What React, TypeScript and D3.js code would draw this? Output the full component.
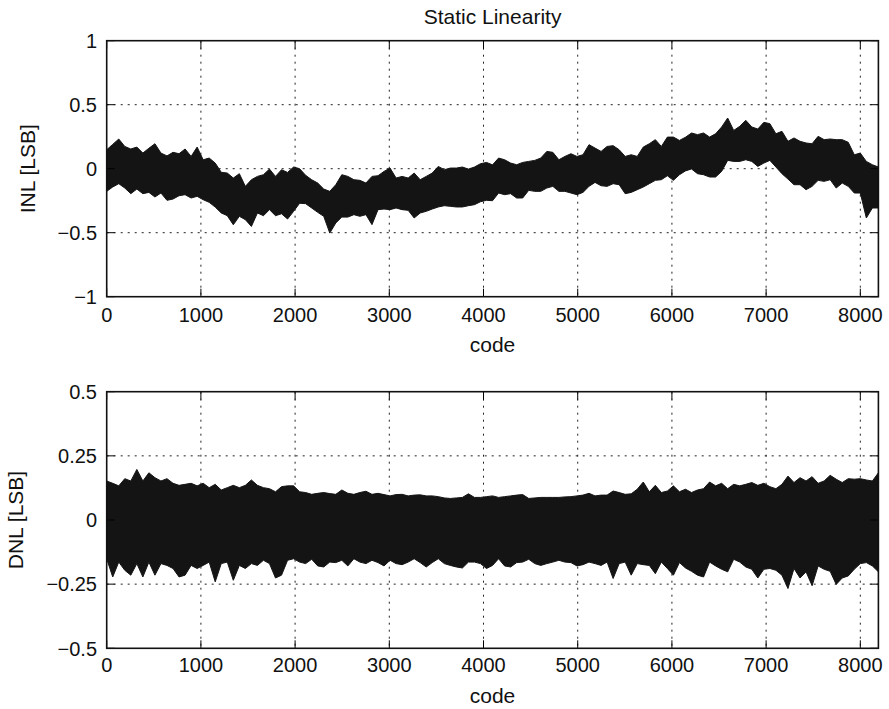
import React from "react";
import * as d3 from "d3";

// ---- data ----
const CODE_STEP = 64; // envelope sampled every 64 codes, 0..8192
const xTicks = [0, 1000, 2000, 3000, 4000, 5000, 6000, 7000, 8000];
const inlTicks = [-1, -0.5, 0, 0.5, 1];
const dnlTicks = [-0.5, -0.25, 0, 0.25, 0.5];

const inlUpper = [
  0.148, 0.19, 0.232, 0.174, 0.154, 0.169, 0.122, 0.16, 0.195, 0.122, 0.1, 0.128, 0.117, 0.154, 0.096, 0.169,
  0.07, 0.083, 0.044, -0.028, -0.034, -0.073, -0.039, -0.138, -0.086, -0.06, -0.047, -0.003, -0.06, -0.008, -0.029, 0.013,
  0.0,
  -0.052, -0.086, -0.112, -0.159, -0.177, -0.125, -0.047, -0.06, -0.086, -0.091, -0.112, -0.06, -0.055, -0.021, 0.005,
  -0.073, -0.06, -0.073, -0.034, -0.086, -0.06, -0.034, 0.018, -0.008, 0.005, 0.005, 0.013, -0.003, 0.013, 0.039, 0.049,
  0.03,
  0.083, 0.07, 0.044, 0.031, 0.049, 0.057, 0.065, 0.083, 0.135, 0.128, 0.07, 0.096, 0.117, 0.096, 0.109, 0.188,
  0.161, 0.135, 0.174, 0.18, 0.148, 0.096, 0.109, 0.096, 0.169, 0.195, 0.227, 0.174, 0.247, 0.247, 0.221,
  0.246,
  0.279, 0.266, 0.279, 0.247, 0.273, 0.326, 0.396, 0.299, 0.331, 0.378, 0.326, 0.31, 0.362, 0.352, 0.273, 0.292,
  0.214, 0.24, 0.214, 0.201, 0.195, 0.253, 0.227, 0.232, 0.227, 0.227, 0.206, 0.109, 0.122, 0.057, 0.031, 0.013,
];

const inlLower = [
  -0.177, -0.143, -0.117, -0.151, -0.195, -0.159, -0.195, -0.185, -0.221, -0.19, -0.247, -0.237, -0.211, -0.203, -0.229, -0.216,
  -0.242, -0.263, -0.3, -0.346, -0.367, -0.438, -0.372, -0.398, -0.451, -0.346, -0.367, -0.32, -0.367, -0.352, -0.393, -0.333,
  -0.27,
  -0.273, -0.307, -0.341, -0.372, -0.503, -0.424, -0.378, -0.378, -0.359, -0.372, -0.359, -0.437, -0.32, -0.315, -0.32,
  -0.307, -0.32, -0.325, -0.385, -0.346, -0.333, -0.315, -0.299, -0.289, -0.294, -0.299, -0.299, -0.289, -0.281, -0.258, -0.247,
  -0.25,
  -0.19, -0.203, -0.195, -0.229, -0.229, -0.169, -0.177, -0.177, -0.151, -0.138, -0.177, -0.177, -0.19, -0.203, -0.185, -0.138,
  -0.107, -0.133, -0.138, -0.117, -0.125, -0.195, -0.185, -0.164, -0.143, -0.117, -0.091, -0.086, -0.055, -0.091, -0.047,
  -0.017,
  -0.002, -0.039, -0.047, -0.065, -0.065, -0.021, 0.065, 0.057, 0.057, 0.07, 0.057, 0.018, 0.044, 0.065, 0.013, -0.039,
  -0.081, -0.125, -0.125, -0.164, -0.138, -0.091, -0.099, -0.086, -0.151, -0.112, -0.138, -0.19, -0.19, -0.385, -0.307, -0.307,
];

const dnlUpper = [
  0.152, 0.143, 0.133, 0.161, 0.152, 0.197, 0.152, 0.184, 0.165, 0.152, 0.161, 0.143, 0.135, 0.139, 0.143, 0.133,
  0.143, 0.126, 0.139, 0.117, 0.126, 0.135, 0.126, 0.135, 0.156, 0.135, 0.126, 0.122, 0.11, 0.13, 0.133, 0.133,
  0.11, 0.107, 0.1, 0.104, 0.107, 0.103, 0.1, 0.117, 0.104, 0.1, 0.107, 0.112, 0.1, 0.104, 0.099, 0.094,
  0.099, 0.1, 0.094, 0.097, 0.098, 0.094, 0.094, 0.091, 0.086, 0.084, 0.086, 0.088, 0.102, 0.088, 0.088, 0.091,
  0.094, 0.088, 0.091, 0.094, 0.097, 0.099, 0.084, 0.086, 0.088, 0.088, 0.088, 0.088, 0.09, 0.091, 0.094, 0.097,
  0.104, 0.094, 0.097, 0.097, 0.113, 0.107, 0.1, 0.102, 0.12, 0.148, 0.11, 0.135, 0.107, 0.113, 0.133, 0.11,
  0.12, 0.107, 0.117, 0.122, 0.148, 0.133, 0.143, 0.122, 0.139, 0.133, 0.139, 0.146, 0.135, 0.143, 0.13, 0.122,
  0.139, 0.171, 0.146, 0.165, 0.152, 0.169, 0.143, 0.152, 0.174, 0.159, 0.146, 0.161, 0.159, 0.161, 0.156, 0.152,
  0.184,
];

const dnlLower = [
  -0.151, -0.222, -0.164, -0.196, -0.215, -0.17, -0.222, -0.164, -0.215, -0.17, -0.177, -0.189, -0.222, -0.215, -0.177, -0.189,
  -0.177, -0.164, -0.241, -0.17, -0.164, -0.235, -0.177, -0.189, -0.17, -0.177, -0.157, -0.17, -0.226, -0.215, -0.157, -0.151,
  -0.164, -0.17, -0.153, -0.179, -0.183, -0.164, -0.166, -0.157, -0.179, -0.151, -0.164, -0.17, -0.157, -0.166, -0.179, -0.157,
  -0.17, -0.174, -0.164, -0.151, -0.166, -0.183, -0.166, -0.151, -0.17, -0.177, -0.183, -0.187, -0.164, -0.164, -0.17, -0.189,
  -0.177, -0.151, -0.179, -0.183, -0.166, -0.164, -0.153, -0.17, -0.177, -0.17, -0.164, -0.157, -0.164, -0.166, -0.179, -0.174,
  -0.164, -0.17, -0.177, -0.164, -0.228, -0.17, -0.164, -0.215, -0.17, -0.174, -0.177, -0.209, -0.164, -0.189, -0.215, -0.166,
  -0.187, -0.2, -0.215, -0.222, -0.164, -0.179, -0.192, -0.202, -0.153, -0.164, -0.183, -0.192, -0.226, -0.192, -0.189, -0.196,
  -0.215, -0.267, -0.189, -0.226, -0.202, -0.256, -0.179, -0.192, -0.2, -0.251, -0.226, -0.218, -0.192, -0.17, -0.166, -0.179,
  -0.202,
];

// ---- layout ----
const W = 889;
const H = 709;
const LEFT = 106.7;
const RIGHT = 878.4;
const FONT = "'Liberation Sans', Arial, Helvetica, sans-serif";
const INK = "#141414";

const fmt = (v: number) => (v < 0 ? "\u2212" + String(-v) : String(v));

type PanelProps = {
  top: number;
  bottom: number;
  domain: [number, number];
  yTicks: number[];
  upper: number[];
  lower: number[];
  ylabel: string;
  ylabelX: number;
  tickBaseline: number;
  xlabelBaseline: number;
};

function Panel(p: PanelProps) {
  const x = d3.scaleLinear().domain([0, 8192]).range([LEFT, RIGHT]);
  const y = d3.scaleLinear().domain(p.domain).range([p.bottom, p.top]);
  const rows = p.upper.map((u, i) => ({ c: Math.min(i * CODE_STEP, 8192), hi: u, lo: p.lower[i] }));
  const area = d3
    .area<{ c: number; hi: number; lo: number }>()
    .x((d) => x(d.c))
    .y0((d) => y(d.lo))
    .y1((d) => y(d.hi));
  const tickLen = 8;
  const midY = (p.top + p.bottom) / 2;
  return (
    <g>
      {/* grid */}
      {xTicks
        .filter((t) => t > 0)
        .map((t) => (
          <line key={"gx" + t} x1={x(t)} x2={x(t)} y1={p.top} y2={p.bottom} stroke="#222" strokeWidth={1} strokeDasharray="2,5" />
        ))}
      {p.yTicks
        .filter((t) => t > p.domain[0] && t < p.domain[1])
        .map((t) => (
          <line key={"gy" + t} x1={LEFT} x2={RIGHT} y1={y(t)} y2={y(t)} stroke="#222" strokeWidth={1} strokeDasharray="2,5" />
        ))}
      {/* data */}
      <path d={area(rows) || ""} fill={INK} stroke={INK} strokeWidth={1} strokeLinejoin="miter" />
      {/* ticks */}
      {xTicks.map((t) => (
        <g key={"tx" + t}>
          <line x1={x(t)} x2={x(t)} y1={p.bottom} y2={p.bottom - tickLen} stroke="#000" strokeWidth={1} />
          <line x1={x(t)} x2={x(t)} y1={p.top} y2={p.top + tickLen} stroke="#000" strokeWidth={1} />
          <text x={x(t)} y={p.tickBaseline} textAnchor="middle" fontSize={20} fontFamily={FONT} fill="#111">
            {fmt(t)}
          </text>
        </g>
      ))}
      {p.yTicks.map((t) => (
        <g key={"ty" + t}>
          <line x1={LEFT} x2={LEFT + tickLen} y1={y(t)} y2={y(t)} stroke="#000" strokeWidth={1} />
          <line x1={RIGHT} x2={RIGHT - tickLen} y1={y(t)} y2={y(t)} stroke="#000" strokeWidth={1} />
          <text x={97} y={y(t)} dy="0.36em" textAnchor="end" fontSize={20} fontFamily={FONT} fill="#111">
            {fmt(t)}
          </text>
        </g>
      ))}
      {/* frame */}
      <rect x={LEFT} y={p.top} width={RIGHT - LEFT} height={p.bottom - p.top} fill="none" stroke="#111" strokeWidth={1.6} />
      {/* labels */}
      <text x={(LEFT + RIGHT) / 2} y={p.xlabelBaseline} textAnchor="middle" fontSize={21} fontFamily={FONT} fill="#111">
        code
      </text>
      <text
        transform={`translate(${p.ylabelX},${midY}) rotate(-90)`}
        textAnchor="middle"
        fontSize={21}
        fontFamily={FONT}
        fill="#111"
      >
        {p.ylabel}
      </text>
    </g>
  );
}

export default function App() {
  return (
    <svg
      width={W}
      height={H}
      viewBox={`0 0 ${W} ${H}`}
      style={{ position: "absolute", left: 0, top: 0, background: "#fff" }}
    >
      <rect x={0} y={0} width={W} height={H} fill="#fff" />
      <text x={(LEFT + RIGHT) / 2} y={24} textAnchor="middle" fontSize={21} fontFamily={FONT} fill="#111">
        Static Linearity
      </text>
      <Panel
        top={40.7}
        bottom={296.7}
        domain={[-1, 1]}
        yTicks={inlTicks}
        upper={inlUpper}
        lower={inlLower}
        ylabel="INL [LSB]"
        ylabelX={35}
        tickBaseline={322}
        xlabelBaseline={352}
      />
      <Panel
        top={391.7}
        bottom={648.3}
        domain={[-0.5, 0.5]}
        yTicks={dnlTicks}
        upper={dnlUpper}
        lower={dnlLower}
        ylabel="DNL [LSB]"
        ylabelX={23}
        tickBaseline={672}
        xlabelBaseline={703}
      />
    </svg>
  );
}
